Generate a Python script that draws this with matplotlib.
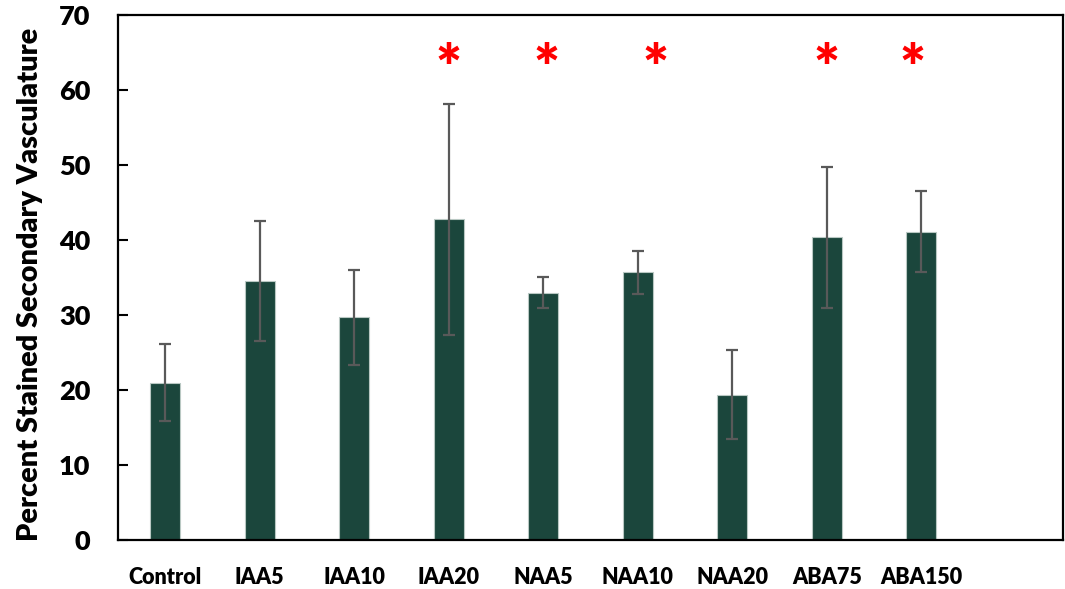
import matplotlib
matplotlib.use("Agg")
import matplotlib.pyplot as plt
import numpy as np

# Treatment groups and measured staining percentages
categories = ["Control", "IAA5", "IAA10", "IAA20", "NAA5", "NAA10", "NAA20", "ABA75", "ABA150"]
means = [21.0, 34.5, 29.7, 42.8, 33.0, 35.7, 19.4, 40.4, 41.1]
errors = [5.1, 8.0, 6.3, 15.4, 2.1, 2.9, 5.9, 9.4, 5.4]

# Groups flagged as significantly different from control
significant = ["IAA20", "NAA5", "NAA10", "ABA75", "ABA150"]
star_level = 62.6
star_nudge = [0.0, 0.03, 0.19, 0.0, -0.09]

bar_color = "#1b463c"
err_color = "#595959"
sans_bold = ["Lato", "DejaVu Sans"]

fig = plt.figure(figsize=(10.65, 5.89), dpi=100)
ax = fig.add_axes([118 / 1065, 49 / 589, 945 / 1065, 525 / 589])

x = np.arange(len(categories)) + 0.5
ax.bar(x, means, width=0.32, color=bar_color, edgecolor="#b9c8c3",
       linewidth=0.8, zorder=2)
ax.errorbar(x, means, yerr=errors, fmt="none", ecolor=err_color,
            elinewidth=1.6, capsize=4.3, capthick=1.6, zorder=3)

for name, dx in zip(significant, star_nudge):
    i = categories.index(name)
    ax.text(x[i] + dx, star_level, "*", color="#ff0000", ha="center", va="center",
            fontsize=44, fontweight="heavy", family=sans_bold)

ax.set_xlim(0, len(categories) + 1)
ax.set_ylim(0, 70)
ax.set_yticks(np.arange(0, 71, 10))
ax.set_xticks([])

for xi, label in zip(x, categories):
    ax.text(xi, -5.0, label, ha="center", va="center", fontsize=15.5,
            fontweight="heavy", family=sans_bold)

ax.tick_params(axis="y", direction="in", length=7.5, width=1.5, pad=20,
               labelsize=19.5)
for lbl in ax.get_yticklabels():
    lbl.set_fontweight("heavy")
    lbl.set_family(sans_bold)

for sp in ax.spines.values():
    sp.set_linewidth(1.6)
    sp.set_color("black")

fig.text(30 / 1065, 0.5 * (589 - 540 + 589 - 28) / 589, "Percent Stained Secondary Vasculature",
         rotation=90, ha="center", va="center", fontsize=20.8, fontweight="heavy",
         family=sans_bold)

fig.savefig("out.png", dpi=100)
